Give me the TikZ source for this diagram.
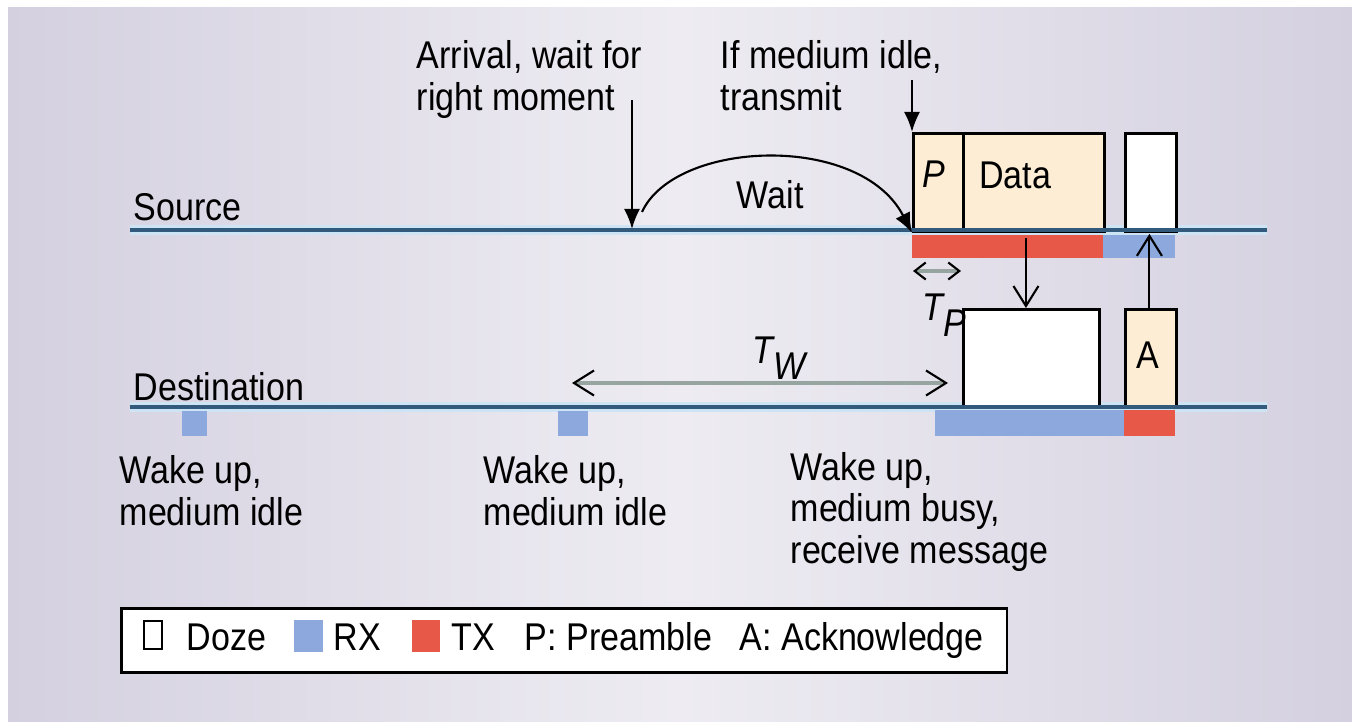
\documentclass[tikz,border=0pt]{standalone}
\usepackage{fontspec}
\setmainfont{Liberation Sans}[FakeStretch=0.88]
\usetikzlibrary{arrows.meta}
\definecolor{bgL}{RGB}{212,208,224}
\definecolor{bgM}{RGB}{238,236,242}
\definecolor{bgR}{RGB}{212,208,224}
\definecolor{tline}{RGB}{50,90,125}
\definecolor{halo}{RGB}{205,228,244}
\definecolor{beige}{RGB}{252,237,212}
\definecolor{rx}{RGB}{140,168,220}
\definecolor{tx}{RGB}{232,88,72}
\definecolor{grayline}{RGB}{150,165,160}
\begin{document}
\begin{tikzpicture}[x=0.01cm,y=-0.01cm,
  txt/.style={font=\fontsize{11}{11.7}\selectfont, inner sep=0pt, align=left},
  box/.style={draw=black, line width=0.8pt, inner sep=0pt, anchor=north west, minimum height=9.8mm},
  ptr/.style={line width=0.6pt, -{Latex[length=2mm,width=1.6mm]}},
  optr/.style={line width=0.6pt, -{Straight Barb[length=2mm,width=2.5mm]}},
  dim/.style={draw=grayline, line width=1.2pt},
  halotl/.style={draw=halo, line width=3pt},
  timeline/.style={draw=tline, line width=1.15pt}]
\useasboundingbox (0,0) rectangle (1352,721);
\fill[white] (0,0) rectangle (1352,721);
\shade[left color=bgL, right color=bgR, middle color=bgM] (8,7) rectangle (1352,721);

% timeline coordinates
\coordinate (s0) at (130,230); \coordinate (s1) at (1267,230);
\coordinate (d0) at (130,407); \coordinate (d1) at (1267,407);
\draw[halotl] (s0) -- (s1);
\draw[halotl] (d0) -- (d1);

% bars
\fill[tx] (912,235) rectangle (1103,258);
\fill[rx] (1103,235) rectangle (1175,258);
\fill[rx] (935,410) rectangle (1124,436);
\fill[tx] (1124,410) rectangle (1175,436);
\fill[rx] (182,411) rectangle (207,436);
\fill[rx] (558,411) rectangle (588,436);

% boxes
\node[box, fill=beige, minimum width=5mm] (P) at (912,132) {};
\node[box, fill=beige, minimum width=14.1mm] (Data) at (962,132) {};
\node[box, fill=white, minimum width=5.1mm] (Wsrc) at (1124,132) {};
\node[box, fill=white, minimum width=13.6mm] (DstBox) at (962,308) {};
\node[box, fill=beige, minimum width=5.1mm] (A) at (1124,308) {};
\node[txt, font=\fontsize{11}{11.7}\selectfont\itshape, anchor=base] (Ptxt) at (934,187) {P};
\node[txt, anchor=base] (Datatxt) at (1015,188) {Data};
\node[txt, anchor=base] (Atxt) at (1148,368) {A};

% timelines
\draw[timeline] (s0) -- (s1);
\draw[timeline] (d0) -- (d1);
\node[txt, anchor=base west] (srclbl) at (133,220) {Source};
\node[txt, anchor=base west] (dstlbl) at (133,400) {Destination};

% top labels and arrows
\node[txt, anchor=base west] (arrival) at (416,110) {Arrival, wait for\\right moment};
\node[txt, anchor=base west] (idle) at (720,110) {If medium idle,\\transmit};
\coordinate (arrTop) at (632,100);
\coordinate (arrTip) at (632,229);
\draw[ptr] (arrTop) -- (arrTip);
\coordinate (txTop) at (912,80);
\draw[ptr] (txTop) -- (P.north west);
\coordinate (waitA) at (642,212);
\draw[ptr] (waitA) .. controls (675,140) and (860,132) .. (P.south west);
\node[txt, anchor=base west] (waitlbl) at (736,208) {Wait};

% message arrows
\draw[optr] ([xshift=-0.8mm,yshift=-0.5mm]Data.south) -- ([xshift=-0.8mm]Data.south |- DstBox.north);
\draw[optr] ([xshift=-0.15mm]A.north) -- ([xshift=-0.15mm,yshift=-0.1mm]A.north |- Wsrc.south);

% T_P
\coordinate (tp1) at (913,271); \coordinate (tp2) at (961,271);
\draw[dim, {Straight Barb[length=1.1mm,width=1.7mm,color=black,line width=0.6pt]}-{Straight Barb[length=1.1mm,width=1.7mm,color=black,line width=0.6pt]}] (tp1) -- (tp2);
\node[txt, anchor=base west, font=\fontsize{11}{11.7}\selectfont\itshape] (tplbl) at (922,320) {T\raisebox{-0.8ex}{P}};

% T_W
\coordinate (tw1) at (572,383); \coordinate (tw2) at (948,383);
\draw[dim, {Straight Barb[length=2mm,width=2.5mm,color=black,line width=0.6pt]}-{Straight Barb[length=2mm,width=2.5mm,color=black,line width=0.6pt]}] (tw1) -- (tw2);
\node[txt, anchor=base west, font=\fontsize{11}{11.7}\selectfont\itshape] (twlbl) at (752,363) {T\raisebox{-0.8ex}{W}};

% bottom labels
\node[txt, anchor=base west] (wake1) at (119,525) {Wake up,\\medium idle};
\node[txt, anchor=base west] (wake2) at (483,525) {Wake up,\\medium idle};
\node[txt, anchor=base west] (wake3) at (790,563) {Wake up,\\medium busy,\\receive message};

% legend
\node[draw=black, line width=0.8pt, fill=white, anchor=north west, minimum width=88.5mm, minimum height=6.4mm, inner sep=0pt] (legend) at (120,607) {};
\node[draw=black, line width=0.6pt, fill=white, anchor=north west, minimum width=1.8mm, minimum height=2.8mm, inner sep=0pt] (dozeSq) at (143,620) {};
\node[fill=rx, anchor=north west, minimum width=2.9mm, minimum height=3.2mm, inner sep=0pt] (rxSq) at (293,619) {};
\node[fill=tx, anchor=north west, minimum width=2.8mm, minimum height=3.2mm, inner sep=0pt] (txSq) at (411,619) {};
\node[txt, anchor=base west] (doze) at (186,650) {Doze};
\node[txt, anchor=base west] (rxl) at (333,650) {RX};
\node[txt, anchor=base west] (txl) at (451,650) {TX};
\node[txt, anchor=base west] (pl) at (524,650) {P: Preamble};
\node[txt, anchor=base west] (al) at (739,650) {A: Acknowledge};
\end{tikzpicture}
\end{document}
